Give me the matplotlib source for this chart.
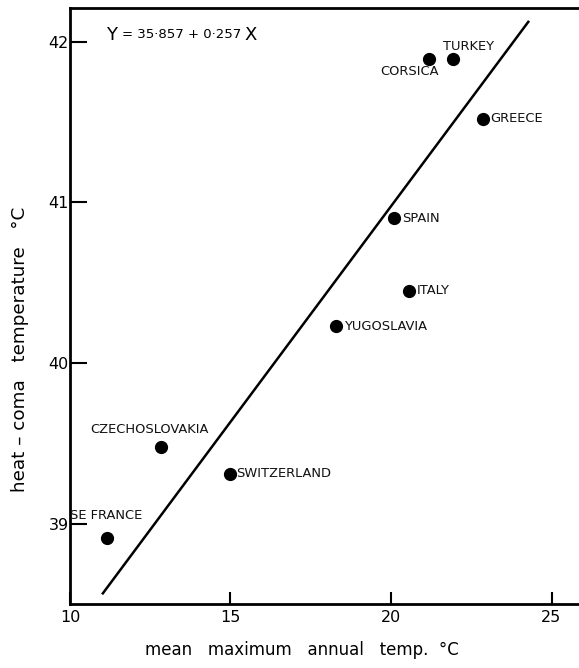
import matplotlib
matplotlib.use("Agg")
import matplotlib.pyplot as plt

# ---- data ----
countries = ["CORSICA", "TURKEY", "GREECE", "SPAIN", "ITALY", "YUGOSLAVIA",
             "CZECHOSLOVAKIA", "SWITZERLAND", "SE FRANCE"]
mean_max_temp = [21.17, 21.92, 22.88, 20.08, 20.55, 18.30, 12.85, 14.97, 11.14]
heat_coma_temp = [41.89, 41.89, 41.52, 40.90, 40.45, 40.23, 39.48, 39.31, 38.91]

line_x = [11.0, 24.3]
line_y = [38.56, 42.13]

x_ticks = [10, 15, 20, 25]
y_ticks = [39, 40, 41, 42]

# label placement (offsets in points) and alignment
label_style = {
    "CORSICA": ((-13.5, -8.6), "center"),
    "TURKEY": ((-7, 9.4), "left"),
    "GREECE": ((5, 0), "left"),
    "SPAIN": ((6, 0), "left"),
    "ITALY": ((6, 0), "left"),
    "YUGOSLAVIA": ((6, 0), "left"),
    "CZECHOSLOVAKIA": ((-8.6, 12.2), "center"),
    "SWITZERLAND": ((5, 0), "left"),
    "SE FRANCE": ((-26, 16), "left"),
}

W, H, DPI = 579, 668, 100
fig = plt.figure(figsize=(W / DPI, H / DPI), dpi=DPI)
ax = fig.add_axes([70 / W, (H - 604) / H, (W - 70) / W, (604 - 8) / H])

ax.plot(line_x, line_y, color="black", lw=1.8, solid_capstyle="butt")
ax.plot(mean_max_temp, heat_coma_temp, "o", color="black", ms=8.5, zorder=3)

for name, x, y in zip(countries, mean_max_temp, heat_coma_temp):
    (dx, dy), ha = label_style[name]
    ax.annotate(name, (x, y), xytext=(dx, dy), textcoords="offset points",
                ha=ha, va="center", fontsize=9.4, color="#111111")

ax.set_xlim(10, 10 + 509 / 32.1)
ax.set_ylim(38.5, 42.21)
ax.set_xticks(x_ticks)
ax.set_yticks(y_ticks)
ax.tick_params(axis="both", direction="in", width=1.5, colors="black",
               labelsize=11.5)
ax.tick_params(axis="y", length=12, pad=1)
ax.tick_params(axis="x", length=9, pad=4)

for s in ["left", "bottom", "top"]:
    ax.spines[s].set_linewidth(2)
ax.spines["right"].set_visible(False)

# equation
t1 = ax.text(0.07, 0.955, "Y", transform=ax.transAxes, fontsize=13,
             va="center", ha="left")
t2 = ax.annotate("= 35·857 + 0·257", xy=(1, 0.5), xycoords=t1,
                 xytext=(4, 0), textcoords="offset points",
                 va="center", ha="left", fontsize=9.5)
ax.annotate("X", xy=(1, 0.5), xycoords=t2, xytext=(2, 0),
            textcoords="offset points", va="center", ha="left", fontsize=13)

fig.text(302 / W, 1 - 650 / H, "mean   maximum   annual   temp.  °C",
         ha="center", va="center", fontsize=12)
fig.text(20 / W, 1 - 349 / H, "heat – coma   temperature   °C",
         ha="center", va="center", rotation=90, fontsize=13.2)

fig.savefig("out.png", dpi=DPI)
